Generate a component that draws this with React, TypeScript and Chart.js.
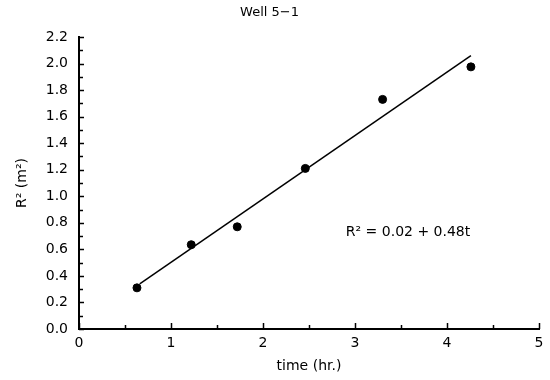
import React, { useEffect, useRef } from "react";
import { Chart, registerables } from "chart.js";

Chart.register(...registerables);

// ---- data ----
const chartTitle = "Well 5−1";
const xTitle = "time (hr.)";
const yTitle = "R² (m²)";
const timeHr = [0.63, 1.22, 1.72, 2.46, 3.3, 4.26];
const r2Values = [0.31, 0.635, 0.77, 1.21, 1.73, 1.975];
const fitTime = [0.66, 4.26];
const fitR2 = [0.34, 2.06];
const equationText = "R² = 0.02 + 0.48t";
const equationAt = { x: 2.9, y: 0.73 };
const xMax = 5;
const yMax = 2.2;

const FONT = "'DejaVu Sans', Verdana, sans-serif";

const innerTicks = {
  id: "innerTicks",
  afterDraw(chart: any) {
    const { ctx, chartArea, scales } = chart;
    const xs = scales.x;
    const ys = scales.y;
    ctx.save();
    ctx.strokeStyle = "#000";
    ctx.lineWidth = 1.5;
    // x ticks (inward, upward)
    for (let i = 0; i <= xMax * 2; i++) {
      const v = i / 2;
      const px = Math.round(xs.getPixelForValue(v)) + 0.5;
      const len = i % 2 === 0 ? 6 : 4;
      ctx.beginPath();
      ctx.moveTo(px, chartArea.bottom);
      ctx.lineTo(px, chartArea.bottom - len);
      ctx.stroke();
    }
    // y ticks (inward, rightward)
    for (let i = 0; i <= Math.round(yMax * 10); i++) {
      const v = i / 10;
      const py = Math.round(ys.getPixelForValue(v)) + 0.5;
      const len = i % 2 === 0 ? 5 : 4;
      ctx.beginPath();
      ctx.moveTo(chartArea.left, py);
      ctx.lineTo(chartArea.left + len, py);
      ctx.stroke();
    }
    // equation annotation
    ctx.fillStyle = "#000";
    ctx.font = `14px ${FONT}`;
    ctx.textAlign = "left";
    ctx.textBaseline = "middle";
    ctx.fillText(
      equationText,
      xs.getPixelForValue(equationAt.x),
      ys.getPixelForValue(equationAt.y)
    );
    ctx.restore();
  },
};

export default function App() {
  const ref = useRef<HTMLCanvasElement | null>(null);

  useEffect(() => {
    if (!ref.current) return;
    const chart = new Chart(ref.current, {
      type: "scatter",
      data: {
        datasets: [
          {
            label: "data",
            data: timeHr.map((t, i) => ({ x: t, y: r2Values[i] })),
            backgroundColor: "#000",
            borderColor: "#000",
            pointRadius: 4,
            pointHoverRadius: 4,
            showLine: false,
          },
          {
            label: "fit",
            data: fitTime.map((t, i) => ({ x: t, y: fitR2[i] })),
            borderColor: "#000",
            borderWidth: 1.5,
            pointRadius: 0,
            showLine: true,
          },
        ],
      },
      options: {
        animation: false,
        responsive: false,
        maintainAspectRatio: false,
        layout: { padding: { left: 0, right: 11, top: 0, bottom: 0 } },
        plugins: {
          legend: { display: false },
          tooltip: { enabled: false },
          title: {
            display: true,
            text: chartTitle,
            color: "#000",
            font: { family: FONT, size: 13, weight: "normal" },
            padding: { top: 5, bottom: 16.4 },
          },
        },
        scales: {
          x: {
            type: "linear",
            min: 0,
            max: xMax,
            afterFit: (s: any) => {
              s.height = 51;
            },
            ticks: {
              stepSize: 1,
              color: "#000",
              font: { family: FONT, size: 14 },
              padding: 6,
              maxRotation: 0,
            },
            grid: { display: true, drawOnChartArea: false, drawTicks: false },
            border: { display: true, color: "#000", width: 2 },
            title: {
              display: true,
              text: xTitle,
              color: "#000",
              font: { family: FONT, size: 14 },
              padding: { top: 0, bottom: 5 },
            },
          },
          y: {
            type: "linear",
            min: 0,
            max: yMax,
            afterFit: (s: any) => {
              s.width = 79;
            },
            ticks: {
              stepSize: 0.2,
              color: "#000",
              font: { family: FONT, size: 14 },
              padding: 11,
              callback: (v: any) => Number(v).toFixed(1),
            },
            grid: { display: true, drawOnChartArea: false, drawTicks: false },
            border: { display: true, color: "#000", width: 2 },
            title: {
              display: true,
              text: yTitle,
              color: "#000",
              font: { family: FONT, size: 14 },
              padding: { top: 14, bottom: 0 },
            },
          },
        },
      },
      plugins: [innerTicks],
    });
    return () => chart.destroy();
  }, []);

  return (
    <div
      style={{
        position: "absolute",
        left: 0,
        top: 0,
        width: 550,
        height: 380,
        background: "#fff",
      }}
    >
      <canvas ref={ref} width={550} height={380} />
    </div>
  );
}
